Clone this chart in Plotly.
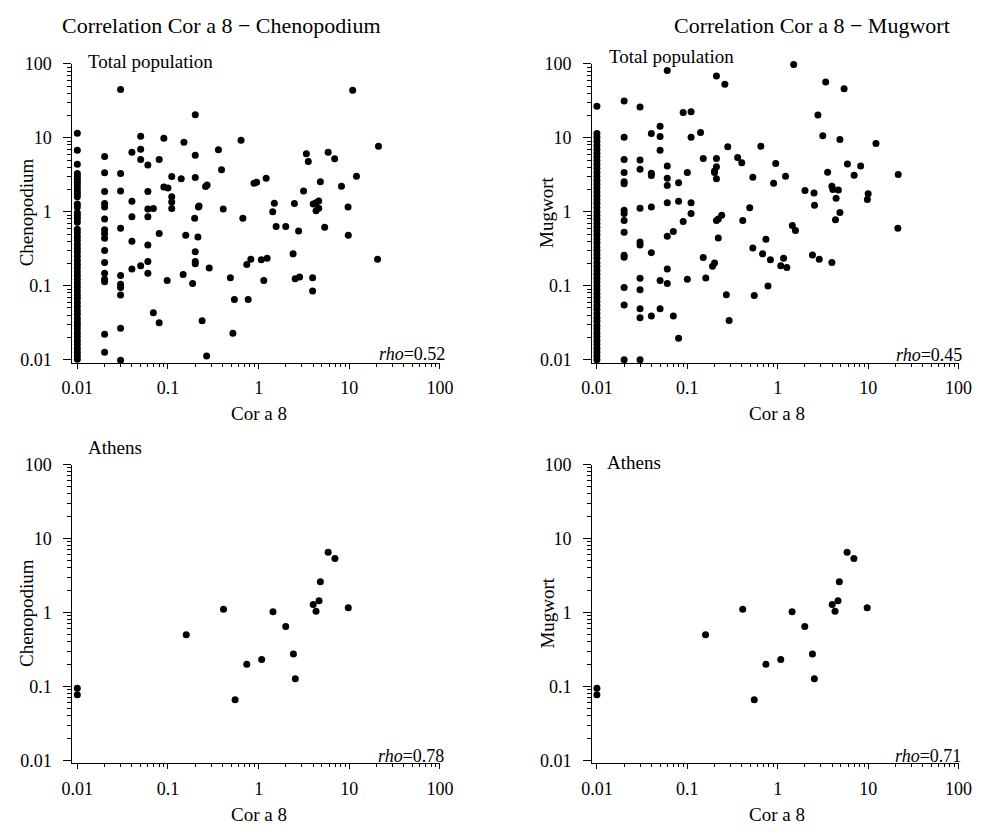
import plotly.graph_objects as go

W, H = 995, 832
FONT = "Liberation Serif, Times New Roman, serif"

# ---- Total population: Cor a 8 vs Chenopodium ----
# samples at the Cor a 8 detection limit (0.01)
chen_limit_vals = [11.5, 6.8, 4.4, 3.3, 3.0, 2.75, 2.5, 2.3, 2.1, 1.9, 1.75, 1.6, 1.27, 1.16,
                   0.97, 0.89, 0.81, 0.72, 0.58, 0.52, 0.46, 0.41, 0.36, 0.32, 0.285, 0.25,
                   0.22, 0.195, 0.175, 0.155, 0.138, 0.122, 0.108, 0.096, 0.085, 0.075, 0.067,
                   0.059, 0.052, 0.046, 0.041, 0.036, 0.032, 0.029, 0.026, 0.023, 0.0205,
                   0.018, 0.016, 0.0142, 0.0126, 0.0112, 0.0101]
chen_cor = [0.03, 0.2, 0.02, 0.02, 0.02, 0.02, 0.03, 0.03, 0.04, 0.04, 0.05, 0.05, 0.05, 0.06,
            0.06, 0.08, 0.09, 0.11, 0.09, 0.1, 0.11, 0.11, 0.14, 0.15, 0.2, 0.2, 0.22, 0.26,
            0.27, 0.36, 0.39, 0.64, 0.89, 0.95,
            10.9, 21.0, 3.36, 3.53, 5.85, 6.9, 1.21, 12.0, 4.8, 3.13, 8.2, 1.49, 2.48, 4.0,
            4.3, 4.6, 4.6, 4.3, 9.7, 1.43, 1.56, 1.99, 2.76, 5.35, 9.75, 1.07, 1.24, 2.4, 20.5,
            1.14, 2.53, 2.83, 3.94, 3.94,
            0.02, 0.02, 0.02, 0.02, 0.02, 0.02, 0.02, 0.02, 0.02, 0.02, 0.02, 0.02,
            0.03, 0.03, 0.03, 0.03, 0.03, 0.03, 0.03,
            0.04, 0.04, 0.04, 0.05, 0.06, 0.06, 0.069, 0.06, 0.06, 0.06, 0.08, 0.11, 0.098,
            0.069, 0.08, 0.157, 0.217, 0.197, 0.214, 0.2, 0.2, 0.2, 0.285, 0.147, 0.187,
            0.407, 0.67, 0.238, 0.267, 0.488, 0.54, 0.767, 0.52, 0.74, 0.82]
chen_pollen = [45.0, 20.5, 5.6, 3.36, 1.88, 1.29, 3.29, 1.91, 6.4, 1.39, 10.5, 7.0, 5.1, 4.3,
               1.88, 5.1, 9.9, 3.0, 2.16, 2.1, 1.6, 1.36, 2.8, 8.7, 5.8, 2.9, 1.2, 2.2,
               2.3, 6.9, 3.7, 9.3, 2.44, 2.5,
               44.0, 7.7, 6.1, 4.8, 6.4, 5.2, 2.85, 3.03, 2.55, 1.91, 2.21, 1.3, 1.29, 1.27,
               1.33, 1.4, 1.12, 1.03, 1.16, 1.0, 0.63, 0.63, 0.55, 0.62, 0.48, 0.224, 0.236,
               0.27, 0.229, 0.118, 0.124, 0.131, 0.128, 0.085,
               1.16, 0.8, 0.57, 0.51, 0.44, 0.30, 0.206, 0.147, 0.122, 0.113, 0.022, 0.0126,
               0.6, 0.138, 0.105, 0.095, 0.075, 0.0266, 0.0098,
               0.86, 0.4, 0.169, 0.187, 1.09, 0.86, 1.11, 0.355, 0.213, 0.147, 0.507, 1.11,
               0.118, 0.043, 0.0316, 0.48, 1.16, 0.815, 0.457, 0.289, 0.213, 0.198, 0.174,
               0.142, 0.107, 1.09, 0.815, 0.0336, 0.0112, 0.128, 0.065, 0.065, 0.0228,
               0.193, 0.229]

# ---- Total population: Cor a 8 vs Mugwort ----
mugw_limit_vals = [26.7, 11.4, 10.2, 9.0, 7.9, 7.0, 6.2, 5.5, 4.9, 4.35, 3.85, 3.4, 3.0, 2.65,
                   2.35, 2.1, 1.85, 1.65, 1.45, 1.3, 1.14, 1.0, 0.89, 0.79, 0.7, 0.62, 0.55,
                   0.49, 0.43, 0.38, 0.335, 0.3, 0.265, 0.235, 0.205, 0.182, 0.161, 0.143,
                   0.126, 0.112, 0.099, 0.088, 0.078, 0.069, 0.061, 0.054, 0.048, 0.042,
                   0.037, 0.033, 0.029, 0.026, 0.023, 0.0205, 0.018, 0.016, 0.0142, 0.0126,
                   0.0112, 0.0100]
mugw_cor = [0.02, 0.03, 0.06, 0.21, 0.26, 0.09, 0.11, 0.05, 0.04, 0.05, 0.02, 0.11, 0.14,
            0.05, 0.28, 0.65, 0.02, 0.03, 0.03, 0.02, 0.02, 0.02, 0.04, 0.04, 0.06, 0.06,
            0.06, 0.08, 0.1, 0.15, 0.21, 0.21, 0.2, 0.2, 0.21, 0.36, 0.4, 0.53, 0.95, 0.9, 1.22,
            1.5, 11.0, 3.39, 5.42, 2.78, 3.15, 4.87, 12.2, 5.9, 8.26, 3.56, 7.0, 21.5, 2.0,
            2.52, 3.97, 4.07, 4.68, 4.42, 10.0, 9.8, 2.55, 4.87, 4.35, 1.45, 1.57, 21.3, 2.42,
            2.88, 3.97,
            0.02, 0.02, 0.02, 0.02, 0.02, 0.02, 0.02, 0.02, 0.02, 0.03, 0.03, 0.03, 0.03,
            0.03, 0.03, 0.03, 0.03, 0.04, 0.04, 0.04, 0.05, 0.05, 0.06, 0.06, 0.06, 0.06,
            0.07, 0.07, 0.08, 0.08, 0.09, 0.1, 0.11, 0.11, 0.15, 0.16, 0.19, 0.2, 0.21, 0.22,
            0.24, 0.22, 0.27, 0.29, 0.41, 0.49, 0.53, 0.68, 0.55, 0.74, 0.83, 0.78, 1.08,
            1.16, 1.26]
mugw_pollen = [31.4, 26.1, 81.5, 68.7, 53.2, 22.0, 22.5, 14.3, 11.4, 10.4, 10.2, 10.2, 11.8,
               6.8, 7.6, 7.7, 5.1, 5.0, 3.75, 3.39, 2.55, 2.4, 3.33, 3.1, 4.16, 2.84, 2.26,
               2.47, 3.39, 5.24, 5.24, 4.06, 3.56, 3.39, 2.79, 5.4, 4.6, 2.94, 4.5, 2.44, 3.03,
               98.0, 115.0, 57.0, 46.0, 20.3, 10.7, 9.46, 8.4, 4.42, 4.16, 3.42, 3.12, 3.2,
               1.94, 1.8, 2.22, 2.0, 1.97, 1.53, 1.75, 1.47, 1.23, 0.98, 0.78, 0.65, 0.56, 0.6,
               0.26, 0.229, 0.206,
               1.05, 0.95, 0.76, 0.53, 0.259, 0.243, 0.095, 0.0547, 0.0100, 1.12, 0.39, 0.355,
               0.126, 0.088, 0.049, 0.0368, 0.0100, 1.16, 0.28, 0.039, 0.118, 0.049, 1.33,
               0.467, 0.169, 0.107, 0.543, 0.039, 1.39, 0.0195, 0.74, 0.122, 1.33, 0.95, 0.24,
               0.127, 0.183, 0.203, 0.76, 0.8, 0.9, 0.443, 0.0755, 0.034, 0.76, 1.13, 0.324,
               0.27, 0.074, 0.426, 0.224, 0.099, 0.187, 0.236, 0.177]

# ---- Athens ----
athens_cor = [5.85, 6.95, 4.8, 4.64, 4.0, 4.3, 9.75, 0.41, 1.44, 1.99, 0.159, 0.74, 1.08,
              2.42, 2.54, 0.55, 0.01, 0.01]
athens_chen = [6.49, 5.35, 2.6, 1.44, 1.28, 1.04, 1.16, 1.1, 1.02, 0.646, 0.5, 0.199, 0.231,
               0.275, 0.127, 0.066, 0.094, 0.077]
athens_mugw = [6.49, 5.35, 2.6, 1.44, 1.28, 1.04, 1.16, 1.1, 1.02, 0.646, 0.5, 0.199, 0.231,
               0.275, 0.127, 0.066, 0.094, 0.077]

DETECTION_LIMIT = 0.01
tick_vals = [0.01, 0.1, 1, 10, 100]
tick_text = ["0.01", "0.1", "1", "10", "100"]
rho_values = ["0.52", "0.45", "0.78", "0.71"]


def X(px):
    return px / W


def Y(py):
    return 1 - py / H


panels = [
    # (x data, y data, x domain px, y domain px)
    ([DETECTION_LIMIT] * len(chen_limit_vals) + chen_cor, chen_limit_vals + chen_pollen,
     (63, 440), (55, 360)),
    ([DETECTION_LIMIT] * len(mugw_limit_vals) + mugw_cor, mugw_limit_vals + mugw_pollen,
     (596, 972), (55, 360)),
    (athens_cor, athens_chen, (63, 440), (464, 769)),
    (athens_cor, athens_mugw, (596, 972), (464, 769)),
]

fig = go.Figure()
minor_vals = [m * 10 ** e for e in range(-2, 2) for m in range(2, 10)]

for i, (xs, ys, (x0, x1), (y0, y1)) in enumerate(panels, start=1):
    sfx = "" if i == 1 else str(i)
    fig.add_trace(go.Scatter(
        x=xs, y=ys, mode="markers",
        marker=dict(size=7, color="black", line=dict(width=0)),
        xaxis="x" + sfx, yaxis="y" + sfx, showlegend=False, cliponaxis=False,
    ))
    common = dict(
        type="log", showgrid=False, zeroline=False, showline=True,
        linecolor="black", linewidth=1, ticks="outside", tickcolor="black",
        tickvals=tick_vals, ticktext=tick_text,
        tickfont=dict(family=FONT, size=18, color="black"),
    )
    fig.layout["xaxis" + sfx] = dict(
        common, domain=[X(x0), X(x1)], range=[-2.054, 2], ticklen=5,
        ticklabelstandoff=4, anchor="y" + sfx,
        minor=dict(ticks="outside", tickvals=minor_vals, tickcolor="black", ticklen=3),
    )
    fig.layout["yaxis" + sfx] = dict(
        common, domain=[Y(y1), Y(y0)], range=[-2.04, 2], ticklen=8,
        ticklabelstandoff=8, anchor="x" + sfx,
        minor=dict(ticks="outside", tickvals=minor_vals, tickcolor="black", ticklen=4),
    )

ann = []


def text(px, py, s, size=19, xa="center", ya="middle", angle=0):
    ann.append(dict(x=X(px), y=Y(py), xref="paper", yref="paper", text=s,
                    showarrow=False, xanchor=xa, yanchor=ya, textangle=angle,
                    font=dict(family=FONT, size=size, color="black")))


text(216, 16, "Correlation Cor a 8 \u2212 Chenopodium", size=22)
text(822, 16, "Correlation Cor a 8 \u2212 Mugwort", size=22)
text(77, 53, "Total population", xa="left")
text(611, 47, "Total population", xa="left")
text(77, 447, "Athens", xa="left")
text(609, 462, "Athens", xa="left")
for (px, py), r in zip([(447, 351), (978, 352), (446, 762), (977, 762)], rho_values):
    text(px, py, "<i>rho</i>=" + r, size=18, xa="right")
for px in (254, 786):
    text(px, 412, "Cor a 8")
    text(px, 821, "Cor a 8")
text(16, 207, "Chenopodium", angle=-90)
text(16, 616, "Chenopodium", angle=-90)
text(550, 207, "Mugwort", angle=-90)
text(550, 616, "Mugwort", angle=-90)

fig.update_layout(
    width=W, height=H, margin=dict(l=0, r=0, t=0, b=0),
    paper_bgcolor="white", plot_bgcolor="white",
    font=dict(family=FONT, color="black"),
    annotations=ann,
)

fig.write_html("out.html",
               post_script="document.body.style.margin='0';"
                           "document.body.style.overflow='hidden';")
